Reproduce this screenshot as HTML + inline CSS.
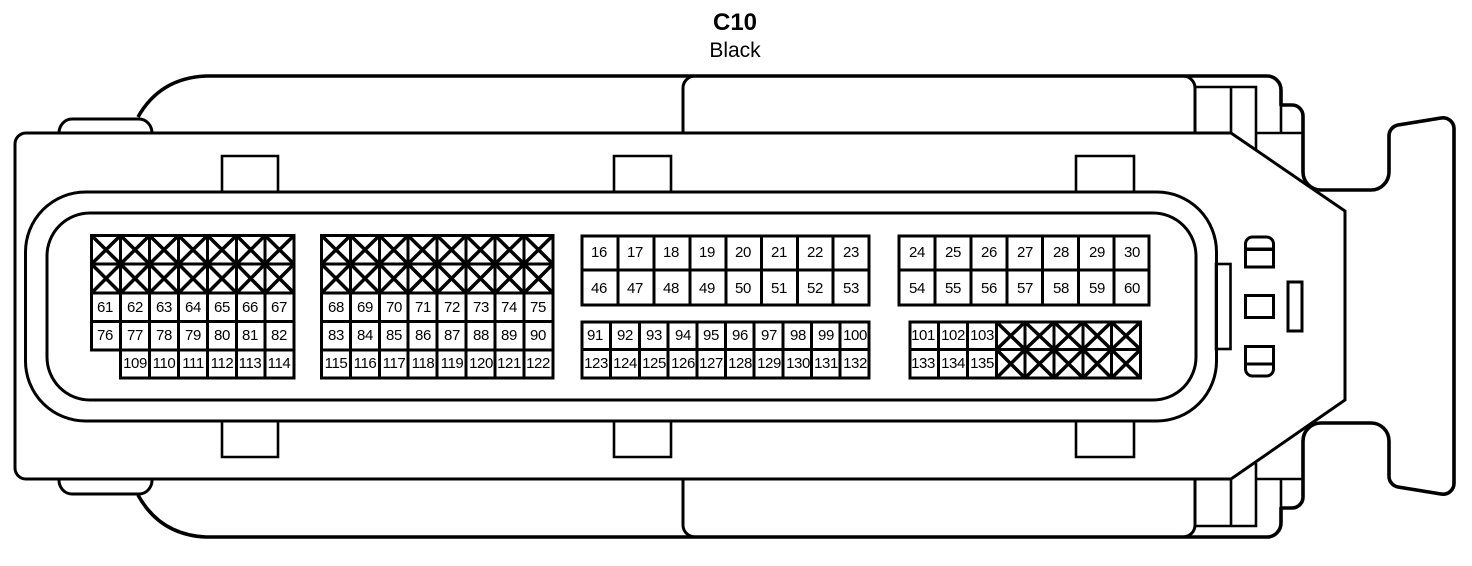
<!DOCTYPE html>
<html><head><meta charset="utf-8"><title>C10 Black</title>
<style>
html,body{margin:0;padding:0;background:#fff;width:1472px;height:566px;overflow:hidden}
svg{display:block}
text{font-family:"Liberation Sans",Arial,sans-serif;fill:#000;text-anchor:middle}
.n text{font-size:15px;letter-spacing:-.4px}
.l{fill:none;stroke:#000;stroke-width:3;stroke-linejoin:miter}
.h{fill:none;stroke:#000;stroke-width:3.6;stroke-linejoin:round}
.t{fill:none;stroke:#000;stroke-width:2.6}
.g{fill:none;stroke:#000;stroke-width:3.4;stroke-linecap:square}
.x{fill:none;stroke:#000;stroke-width:3.5}
</style></head><body>
<svg width="1472" height="566" viewBox="0 0 1472 566" xmlns="http://www.w3.org/2000/svg">
<rect width="1472" height="566" fill="#fff"/>
<text x="735" y="30" font-size="24" font-weight="bold">C10</text>
<text x="735" y="57" font-size="21">Black</text>

<!-- housing -->
<path class="h" d="M138 117Q160 78 206 76H1267A14 14 0 0 1 1281 90V105H1292A11 11 0 0 1 1303 116V172A18 18 0 0 0 1321 190H1371A18 18 0 0 0 1389 172V136A11 11 0 0 1 1398 125L1441 118A11 11 0 0 1 1454 129V483A11 11 0 0 1 1441 494L1398 487A11 11 0 0 1 1389 476V441A18 18 0 0 0 1371 423H1321A18 18 0 0 0 1303 441V497A11 11 0 0 1 1292 508H1281V523A14 14 0 0 1 1267 537H206Q160 535 138 495"/>
<path class="l" d="M59 133A13 14 0 0 1 72 119H139A13 14 0 0 1 152 133M59 479A13 14 0 0 0 72 494H139A13 14 0 0 0 152 479"/>
<path class="l" d="M683 133V88A12 12 0 0 1 695 76M683 479V525A12 12 0 0 0 695 537M1195 133V88A12 12 0 0 0 1183 76M1195 479V525A12 12 0 0 1 1183 537"/>
<path fill="#fff" stroke="#000" stroke-width="3" d="M26 133H1231L1345 211V400L1231 479H26A11 11 0 0 1 15 468V144A11 11 0 0 1 26 133Z"/>
<path class="t" d="M1195 87H1256V150M1231 87V133M1256 133H1303M1281 105V133M1195 526H1256V463M1231 526V479M1256 479H1303M1281 479V508"/>

<!-- latches -->
<path class="t" d="M222 192V156H278V192M614 192V156H671V192M1076 192V156H1134V192M222 421V457H278V421M614 421V457H671V421M1076 421V457H1134V421"/>
<rect class="t" x="1216" y="264" width="14.5" height="85"/>
<path class="l" d="M25.500 252A60 60 0 0 1 85.500 192H1157A59.500 60 0 0 1 1216.500 252V361A59.500 60 0 0 1 1157 421H85.500A60 60 0 0 1 25.500 361Z" fill="#fff"/>
<path class="l" d="M47 256A43 43 0 0 1 90 213H1153A43 43 0 0 1 1196 256V357A43 43 0 0 1 1153 400H90A43 43 0 0 1 47 357Z"/>

<!-- small right side features -->
<path class="l" d="M1245.500 267V244A7 7 0 0 1 1252.500 237H1266.500A7 7 0 0 1 1273.500 244V267ZM1245.500 249H1273.500"/>
<path d="M1245 248H1274V251H1245Z"/>
<rect class="l" x="1245.500" y="295.500" width="28" height="22"/>
<rect class="l" x="1288" y="282" width="14" height="49"/>
<path class="l" d="M1245.500 346.500V369A7 7 0 0 0 1252.500 376H1266.500A7 7 0 0 0 1273.500 369V346.500ZM1245.500 364H1273.500"/>

<!-- grids -->
<g class="g" shape-rendering="crispEdges">
<path d="M91.500 235.500H294M91.500 264H294M91.500 293H294M91.500 321.500H294M91.500 350H294M120.500 378H294M91.500 235.500V350M120.500 235.500V378M149.500 235.500V378M178.500 235.500V378M207.500 235.500V378M236.500 235.500V378M265 235.500V378M294 235.500V378"/>
<path d="M321.500 235.500H553M321.500 264H553M321.500 293H553M321.500 321.500H553M321.500 350H553M321.500 378H553M321.500 235.500V378M350.500 235.500V378M379.500 235.500V378M408 235.500V378M437 235.500V378M466 235.500V378M495 235.500V378M524 235.500V378M553 235.500V378"/>
<path d="M582 236H869M582 270H869M582 305H869M582 236V305M618 236V305M654 236V305M690 236V305M726 236V305M761.500 236V305M797.500 236V305M833 236V305M869 236V305"/>
<path d="M582 322H869M582 349.500H869M582 378H869M582 322V378M610.500 322V378M639.500 322V378M668 322V378M697 322V378M725.500 322V378M754 322V378M783 322V378M811.500 322V378M840 322V378M869 322V378"/>
<path d="M899 236H1149M899 270H1149M899 305H1149M899 236V305M935 236V305M971 236V305M1007 236V305M1042.500 236V305M1078.500 236V305M1114 236V305M1149 236V305"/>
<path d="M910 322H1140.500M910 349.500H1140.500M910 378H1140.500M910 322V378M938.500 322V378M967.500 322V378M996.500 322V378M1025 322V378M1054 322V378M1083 322V378M1111.500 322V378M1140.500 322V378"/>
</g>
<!-- crossed out cells -->
<path class="x" d="M91.500 235.500L120.500 264M120.500 235.500L91.500 264M120.500 235.500L149.500 264M149.500 235.500L120.500 264M149.500 235.500L178.500 264M178.500 235.500L149.500 264M178.500 235.500L207.500 264M207.500 235.500L178.500 264M207.500 235.500L236.500 264M236.500 235.500L207.500 264M236.500 235.500L265 264M265 235.500L236.500 264M265 235.500L294 264M294 235.500L265 264
M91.500 264L120.500 293M120.500 264L91.500 293M120.500 264L149.500 293M149.500 264L120.500 293M149.500 264L178.500 293M178.500 264L149.500 293M178.500 264L207.500 293M207.500 264L178.500 293M207.500 264L236.500 293M236.500 264L207.500 293M236.500 264L265 293M265 264L236.500 293M265 264L294 293M294 264L265 293
M321.500 235.500L350.500 264M350.500 235.500L321.500 264M350.500 235.500L379.500 264M379.500 235.500L350.500 264M379.500 235.500L408 264M408 235.500L379.500 264M408 235.500L437 264M437 235.500L408 264M437 235.500L466 264M466 235.500L437 264M466 235.500L495 264M495 235.500L466 264M495 235.500L524 264M524 235.500L495 264M524 235.500L553 264M553 235.500L524 264
M321.500 264L350.500 293M350.500 264L321.500 293M350.500 264L379.500 293M379.500 264L350.500 293M379.500 264L408 293M408 264L379.500 293M408 264L437 293M437 264L408 293M437 264L466 293M466 264L437 293M466 264L495 293M495 264L466 293M495 264L524 293M524 264L495 293M524 264L553 293M553 264L524 293
M996.500 322L1025 349.500M1025 322L996.500 349.500M1025 322L1054 349.500M1054 322L1025 349.500M1054 322L1083 349.500M1083 322L1054 349.500M1083 322L1111.500 349.500M1111.500 322L1083 349.500M1111.500 322L1140.500 349.500M1140.500 322L1111.500 349.500
M996.500 349.500L1025 378M1025 349.500L996.500 378M1025 349.500L1054 378M1054 349.500L1025 378M1054 349.500L1083 378M1083 349.500L1054 378M1083 349.500L1111.500 378M1111.500 349.500L1083 378M1111.500 349.500L1140.500 378M1140.500 349.500L1111.500 378"/>

<g class="n">
<text x="599" y="257">16</text><text x="635" y="257">17</text><text x="671" y="257">18</text><text x="707" y="257">19</text><text x="743" y="257">20</text><text x="779" y="257">21</text><text x="815" y="257">22</text><text x="851" y="257">23</text>
<text x="917" y="257">24</text><text x="953" y="257">25</text><text x="989" y="257">26</text><text x="1025" y="257">27</text><text x="1061" y="257">28</text><text x="1097" y="257">29</text><text x="1132" y="257">30</text>
<text x="599" y="293">46</text><text x="635" y="293">47</text><text x="671" y="293">48</text><text x="707" y="293">49</text><text x="743" y="293">50</text><text x="779" y="293">51</text><text x="815" y="293">52</text><text x="851" y="293">53</text>
<text x="917" y="293">54</text><text x="953" y="293">55</text><text x="989" y="293">56</text><text x="1025" y="293">57</text><text x="1061" y="293">58</text><text x="1097" y="293">59</text><text x="1132" y="293">60</text>

<text x="105" y="312">61</text><text x="135" y="312">62</text><text x="164" y="312">63</text><text x="193" y="312">64</text><text x="222" y="312">65</text><text x="250" y="312">66</text><text x="279" y="312">67</text>
<text x="336" y="312">68</text><text x="365" y="312">69</text><text x="394" y="312">70</text><text x="423" y="312">71</text><text x="452" y="312">72</text><text x="481" y="312">73</text><text x="509" y="312">74</text><text x="538" y="312">75</text>

<text x="105" y="340">76</text><text x="135" y="340">77</text><text x="164" y="340">78</text><text x="193" y="340">79</text><text x="222" y="340">80</text><text x="250" y="340">81</text><text x="279" y="340">82</text>
<text x="336" y="340">83</text><text x="365" y="340">84</text><text x="394" y="340">85</text><text x="423" y="340">86</text><text x="452" y="340">87</text><text x="481" y="340">88</text><text x="509" y="340">89</text><text x="538" y="340">90</text>
<text x="595" y="340">91</text><text x="625" y="340">92</text><text x="654" y="340">93</text><text x="683" y="340">94</text><text x="711" y="340">95</text><text x="740" y="340">96</text><text x="769" y="340">97</text><text x="798" y="340">98</text><text x="826" y="340">99</text><text x="855" y="340">100</text>
<text x="923" y="340">101</text><text x="953" y="340">102</text><text x="982" y="340">103</text>

<text x="135" y="368">109</text><text x="164" y="368">110</text><text x="193" y="368">111</text><text x="222" y="368">112</text><text x="250" y="368">113</text><text x="279" y="368">114</text>
<text x="336" y="368">115</text><text x="365" y="368">116</text><text x="394" y="368">117</text><text x="423" y="368">118</text><text x="452" y="368">119</text><text x="481" y="368">120</text><text x="509" y="368">121</text><text x="538" y="368">122</text>
<text x="596" y="368">123</text><text x="625" y="368">124</text><text x="654" y="368">125</text><text x="683" y="368">126</text><text x="711" y="368">127</text><text x="740" y="368">128</text><text x="769" y="368">129</text><text x="798" y="368">130</text><text x="826" y="368">131</text><text x="855" y="368">132</text>
<text x="923" y="368">133</text><text x="953" y="368">134</text><text x="982" y="368">135</text>
</g>
</svg>
</body></html>
